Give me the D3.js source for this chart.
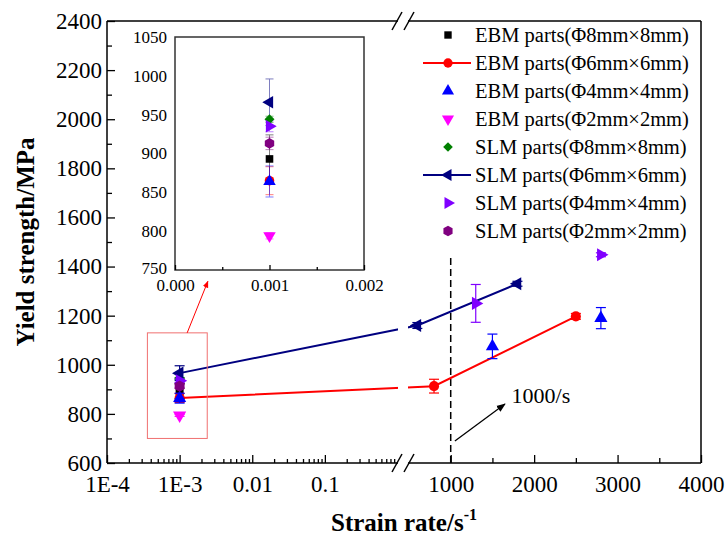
<!DOCTYPE html>
<html>
<head>
<meta charset="utf-8">
<script src="https://cdn.jsdelivr.net/npm/d3@7"></script>
<style>
body { margin: 0; background: #fff; }
</style>
</head>
<body>
<script>
var serif = "'Liberation Serif', 'Times New Roman', serif";

// legend names
var seriesNames = [
  "EBM parts(Φ8mm×8mm)",
  "EBM parts(Φ6mm×6mm)",
  "EBM parts(Φ4mm×4mm)",
  "EBM parts(Φ2mm×2mm)",
  "SLM parts(Φ8mm×8mm)",
  "SLM parts(Φ6mm×6mm)",
  "SLM parts(Φ4mm×4mm)",
  "SLM parts(Φ2mm×2mm)"
];

// strain rate (1/s) for every point of every series
var strainRates = [
  [0.001],
  [0.001, 800, 2500],
  [0.001, 1500, 2800],
  [0.001],
  [0.001],
  [0.001, 600, 1800],
  [0.001, 1300, 2800],
  [0.001]
];

// yield strength (MPa)
var yieldStrength = [
  [893],
  [865, 913, 1197],
  [864, 1075, 1190],
  [794],
  [944],
  [966, 1160, 1330],
  [935, 1250, 1448],
  [913]
];

// error bar half length (MPa)
var yieldError = [
  [31],
  [18, 28, 12],
  [20, 50, 43],
  [4],
  [4],
  [30, 12, 10],
  [7, 77, 8],
  [8]
];

// series drawn with a connecting line
var lineSeries = [1, 5];

// axis ticks
var yTicks = [600, 800, 1000, 1200, 1400, 1600, 1800, 2000, 2200, 2400];
var logTicks = [1e-4, 1e-3, 0.01, 0.1];
var logTickLabels = ["1E-4", "1E-3", "0.01", "0.1"];
var linTicks = [1000, 2000, 3000, 4000];
var insetXTicks = [0, 0.001, 0.002];
var insetXLabels = ["0.000", "0.001", "0.002"];
var insetYTicks = [750, 800, 850, 900, 950, 1000, 1050];

// the 1000/s marker
var refRate = 1000;
var refLine = [600, 1450];

var colors = ["#000000", "#ff0000", "#0000ff", "#ff00ff", "#008000", "#000080", "#8000ff", "#800080"];

var svg = d3.select("body")
  .append("svg")
  .attr("width", 727)
  .attr("height", 544)
  .style("font-family", serif);

// broken x axis: log part and linear part
var plot = { left: 107, right: 701, top: 21, bottom: 463, breakL: 398, breakR: 408 };

var xLog = d3.scaleLog().domain([1e-4, 1]).range([plot.left, 397.5]);
var xLin = d3.scaleLinear().domain([500, 4000]).range([409, plot.right]);
function xPos(v) { return v <= 1 ? xLog(v) : xLin(v); }

var yScale = d3.scaleLinear().domain([600, 2400]).range([plot.bottom, plot.top]);

// hexagon symbol for the last series
var hexagon = {
  draw: function(ctx, size) {
    var r = Math.sqrt(size / (1.5 * Math.sqrt(3)));
    for (var i = 0; i < 6; i++) {
      var a = Math.PI / 3 * i + Math.PI / 6;
      if (i === 0) ctx.moveTo(r * Math.cos(a), r * Math.sin(a));
      else ctx.lineTo(r * Math.cos(a), r * Math.sin(a));
    }
    ctx.closePath();
  }
};
var symTypes = [d3.symbolSquare, d3.symbolCircle, d3.symbolTriangle, d3.symbolTriangle,
                d3.symbolSquare, d3.symbolTriangle, d3.symbolTriangle, hexagon];
var symRotate = [0, 0, 0, 180, 45, -90, 90, 0];
var symSize = [64, 80, 75, 75, 55, 75, 75, 85];

function marker(g, i, x, y, scale) {
  g.append("path")
    .attr("d", d3.symbol().type(symTypes[i]).size(symSize[i] * scale)())
    .attr("transform", "translate(" + x + "," + y + ") rotate(" + symRotate[i] + ")")
    .attr("fill", colors[i]);
}

// style the texts of an axis group
function styleAxis(g, size) {
  g.attr("font-family", serif).attr("font-size", null);
  g.select(".domain").remove();
  g.selectAll("text").style("font-size", size + "px").style("font-family", serif).attr("fill", "#000");
  g.selectAll("line").attr("stroke-width", 1.3);
}

// clip so lines have a gap at the axis break
var clip = svg.append("clipPath").attr("id", "gap");
clip.append("rect").attr("x", plot.left).attr("y", 0).attr("width", plot.breakL - plot.left).attr("height", 544);
clip.append("rect").attr("x", plot.breakR).attr("y", 0).attr("width", plot.right - plot.breakR).attr("height", 544);

// y axis
var gy = svg.append("g").attr("transform", "translate(" + plot.left + ",0)")
  .call(d3.axisLeft(yScale).tickValues(yTicks).tickSize(-8).tickPadding(5).tickFormat(d3.format("d")));
styleAxis(gy, 23);
var gyMinor = svg.append("g").attr("transform", "translate(" + plot.left + ",0)")
  .call(d3.axisLeft(yScale).tickValues(d3.range(700, 2400, 200)).tickSize(-5).tickFormat(""));
styleAxis(gyMinor, 23);

// x axis, log part
var gxLog = svg.append("g").attr("transform", "translate(0," + plot.bottom + ")")
  .call(d3.axisBottom(xLog).tickValues(logTicks).tickSize(-8).tickPadding(13)
    .tickFormat(function(d, i) { return logTickLabels[i]; }));
styleAxis(gxLog, 23);
var logMinor = xLog.ticks().filter(function(d) { return logTicks.indexOf(d) < 0 && d < 1; });
var gxLogMinor = svg.append("g").attr("transform", "translate(0," + plot.bottom + ")")
  .call(d3.axisBottom(xLog).tickValues(logMinor).tickSize(-4).tickFormat(""));
styleAxis(gxLogMinor, 23);

// x axis, linear part
var gxLin = svg.append("g").attr("transform", "translate(0," + plot.bottom + ")")
  .call(d3.axisBottom(xLin).tickValues(linTicks).tickSize(-8).tickPadding(13).tickFormat(d3.format("d")));
styleAxis(gxLin, 23);
var gxLinMinor = svg.append("g").attr("transform", "translate(0," + plot.bottom + ")")
  .call(d3.axisBottom(xLin).tickValues([1500, 2500, 3500]).tickSize(-5).tickFormat(""));
styleAxis(gxLinMinor, 23);

// frame with breaks
var frame = svg.append("g").attr("stroke", "#000").attr("stroke-width", 1.5).attr("fill", "none");
frame.append("line").attr("x1", plot.left).attr("y1", plot.top).attr("x2", plot.left).attr("y2", plot.bottom);
frame.append("line").attr("x1", plot.right).attr("y1", plot.top).attr("x2", plot.right).attr("y2", plot.bottom);
[plot.top, plot.bottom].forEach(function(yy) {
  frame.append("line").attr("x1", plot.left).attr("y1", yy).attr("x2", plot.breakL).attr("y2", yy);
  frame.append("line").attr("x1", plot.breakR).attr("y1", yy).attr("x2", plot.right).attr("y2", yy);
  [plot.breakL - 1, plot.breakR + 1].forEach(function(bx) {
    frame.append("line").attr("x1", bx - 5).attr("y1", yy + 9).attr("x2", bx + 5).attr("y2", yy - 9);
  });
});

// axis titles
svg.append("text")
  .attr("transform", "translate(34," + ((plot.top + plot.bottom) / 2) + ") rotate(-90)")
  .attr("text-anchor", "middle")
  .style("font-size", "25px")
  .style("font-weight", "bold")
  .text("Yield strength/MPa");

var xt = svg.append("text")
  .attr("x", 404)
  .attr("y", 531)
  .attr("text-anchor", "middle")
  .style("font-size", "25px")
  .style("font-weight", "bold");
xt.append("tspan").text("Strain rate/s");
xt.append("tspan").attr("dy", -11).style("font-size", "16px").text("-1");

// dashed 1000/s line
svg.append("line")
  .attr("x1", xLin(refRate)).attr("x2", xLin(refRate))
  .attr("y1", yScale(refLine[0])).attr("y2", yScale(refLine[1]))
  .attr("stroke", "#000").attr("stroke-width", 1.5).attr("stroke-dasharray", "7,4");

// arrow markers
var defs = svg.append("defs");
function arrowHead(id, color) {
  defs.append("marker").attr("id", id)
    .attr("viewBox", "0 0 10 10").attr("refX", 9).attr("refY", 5)
    .attr("markerWidth", 7).attr("markerHeight", 7).attr("orient", "auto")
    .append("path").attr("d", "M0,1 L10,5 L0,9 Z").attr("fill", color);
}
arrowHead("arrBlack", "#000");
arrowHead("arrRed", "#ff0000");

svg.append("line")
  .attr("x1", xLin(1050)).attr("y1", yScale(690))
  .attr("x2", xLin(1650)).attr("y2", yScale(840))
  .attr("stroke", "#000").attr("stroke-width", 1.3).attr("marker-end", "url(#arrBlack)");
svg.append("text")
  .attr("x", xLin(1730)).attr("y", yScale(845))
  .style("font-size", "22px")
  .text("1000/s");

// lines for connected series
var lineGen = d3.line().x(function(d) { return xPos(d[0]); }).y(function(d) { return yScale(d[1]); });
lineSeries.forEach(function(i) {
  var pts = strainRates[i].map(function(x, j) { return [x, yieldStrength[i][j]]; });
  svg.append("path")
    .attr("d", lineGen(pts))
    .attr("fill", "none")
    .attr("stroke", colors[i])
    .attr("stroke-width", 2)
    .attr("clip-path", "url(#gap)");
});

// error bars and markers in the main plot
var pointsG = svg.append("g");
seriesNames.forEach(function(name, i) {
  strainRates[i].forEach(function(x, j) {
    var px = xPos(x), v = yieldStrength[i][j], e = yieldError[i][j];
    var eb = pointsG.append("g").attr("stroke", colors[i]).attr("stroke-width", 1.2);
    eb.append("line").attr("x1", px).attr("x2", px).attr("y1", yScale(v - e)).attr("y2", yScale(v + e));
    eb.append("line").attr("x1", px - 5).attr("x2", px + 5).attr("y1", yScale(v - e)).attr("y2", yScale(v - e));
    eb.append("line").attr("x1", px - 5).attr("x2", px + 5).attr("y1", yScale(v + e)).attr("y2", yScale(v + e));
    marker(pointsG, i, px, yScale(v), 1);
  });
});

// box round the 1E-3 cluster and arrow to the inset
svg.append("rect")
  .attr("x", xLog(3.6e-4)).attr("y", yScale(1130))
  .attr("width", xLog(2.4e-3) - xLog(3.6e-4))
  .attr("height", yScale(700) - yScale(1130))
  .attr("fill", "none").attr("stroke", "#f07070").attr("stroke-width", 1);
svg.append("line")
  .attr("x1", xLog(1.27e-3)).attr("y1", yScale(1130))
  .attr("x2", xLog(2.45e-3)).attr("y2", yScale(1340))
  .attr("stroke", "#ff0000").attr("stroke-width", 1).attr("marker-end", "url(#arrRed)");

// inset
var ix = d3.scaleLinear().domain([0, 0.002]).range([175, 364]);
var iy = d3.scaleLinear().domain([750, 1050]).range([270, 37]);
var inset = svg.append("g");
inset.append("rect")
  .attr("x", 175).attr("y", 37).attr("width", 189).attr("height", 233)
  .attr("fill", "#fff").attr("stroke", "#333").attr("stroke-width", 1.5);

var ixAxis = inset.append("g").attr("transform", "translate(0,270)")
  .call(d3.axisBottom(ix).tickValues(insetXTicks).tickSize(-5).tickPadding(9)
    .tickFormat(function(d, i) { return insetXLabels[i]; }));
styleAxis(ixAxis, 17);
var ixMinor = inset.append("g").attr("transform", "translate(0,270)")
  .call(d3.axisBottom(ix).tickValues([0.0005, 0.0015]).tickSize(-3).tickFormat(""));
styleAxis(ixMinor, 17);

var iyAxis = inset.append("g").attr("transform", "translate(175,0)")
  .call(d3.axisLeft(iy).tickValues(insetYTicks).tickSize(0).tickPadding(8).tickFormat(d3.format("d")));
styleAxis(iyAxis, 17);
// lift the lowest label a little so it clears 0.000
iyAxis.selectAll(".tick").filter(function(d) { return d === 750; }).select("text").attr("dy", "0.2em");

seriesNames.forEach(function(name, i) {
  var px = ix(strainRates[i][0]), v = yieldStrength[i][0], e = yieldError[i][0];
  var eb = inset.append("g").attr("stroke", colors[i]).attr("stroke-width", 1).attr("opacity", 0.5);
  eb.append("line").attr("x1", px).attr("x2", px).attr("y1", iy(v - e)).attr("y2", iy(v + e));
  eb.append("line").attr("x1", px - 4).attr("x2", px + 4).attr("y1", iy(v - e)).attr("y2", iy(v - e));
  eb.append("line").attr("x1", px - 4).attr("x2", px + 4).attr("y1", iy(v + e)).attr("y2", iy(v + e));
});
seriesNames.forEach(function(name, i) {
  marker(inset, i, ix(strainRates[i][0]), iy(yieldStrength[i][0]), 0.9);
});

// legend
var legend = svg.append("g");
seriesNames.forEach(function(name, i) {
  var ly = 35 + i * 28;
  if (lineSeries.indexOf(i) >= 0) {
    legend.append("line").attr("x1", 423).attr("x2", 471).attr("y1", ly).attr("y2", ly)
      .attr("stroke", colors[i]).attr("stroke-width", 2);
  }
  marker(legend, i, 448, ly, 0.85);
  legend.append("text")
    .attr("x", 475).attr("y", ly).attr("dy", "0.35em")
    .style("font-size", "20.5px")
    .text(name);
});
</script>
</body>
</html>
